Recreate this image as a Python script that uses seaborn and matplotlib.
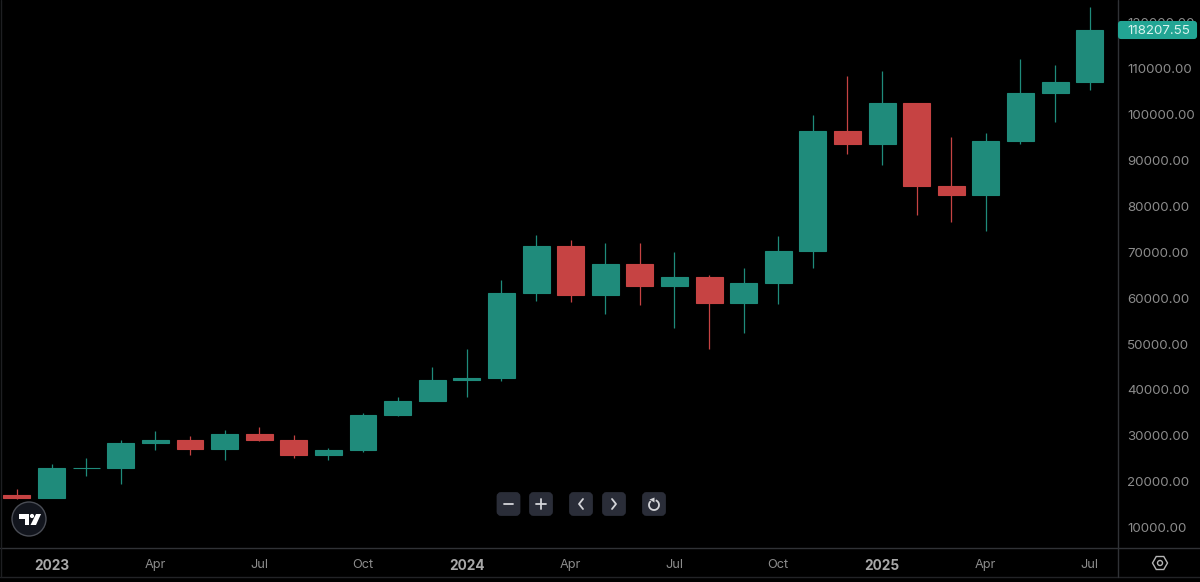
import pandas as pd
import matplotlib
matplotlib.use('Agg')
import matplotlib.pyplot as plt
import seaborn as sns
from matplotlib.patches import Circle, FancyBboxPatch, Polygon, RegularPolygon, Arc

# Monthly candles, Dec 2022 to Jul 2025
months = ['2022-12', '2023-01', '2023-02', '2023-03', '2023-04', '2023-05', '2023-06', '2023-07',
          '2023-08', '2023-09', '2023-10', '2023-11', '2023-12', '2024-01', '2024-02', '2024-03',
          '2024-04', '2024-05', '2024-06', '2024-07', '2024-08', '2024-09', '2024-10', '2024-11',
          '2024-12', '2025-01', '2025-02', '2025-03', '2025-04', '2025-05', '2025-06', '2025-07']
opens = [17170, 16450, 23100, 23150, 28400, 29200, 27200, 30450,
         29200, 25950, 26960, 34500, 37700, 42200, 42580, 61130,
         71300, 60600, 67500, 62700, 64600, 58900, 63300, 70200,
         96400, 93400, 102400, 84300, 82500, 94200, 104600, 107000]
closes = [16450, 23100, 23150, 28400, 29200, 27200, 30450, 29200,
          25950, 26960, 34500, 37700, 42200, 42580, 61130, 71300,
          60600, 67500, 62700, 64600, 58900, 63300, 70200, 96400,
          93400, 102400, 84300, 82500, 94200, 104600, 107000, 118207.55]
highs = [18480, 23900, 25200, 29150, 31000, 29900, 31400, 32000,
         30200, 27400, 35000, 38400, 45000, 49000, 64000, 73800,
         72700, 71900, 71900, 70000, 65000, 66500, 73500, 99800,
         108300, 109300, 102500, 95000, 95800, 112000, 110600, 123200]
lows = [16300, 16450, 21300, 19570, 27000, 25800, 24800, 28900,
        25200, 24800, 26600, 34300, 37600, 38500, 41900, 59300,
        59100, 56500, 58400, 53500, 49000, 52500, 58700, 66500,
        91300, 88900, 78100, 76600, 74500, 93500, 98300, 105200]

y_ticks = [10000, 20000, 30000, 40000, 50000, 60000, 70000, 80000, 90000, 100000, 110000, 120000]
x_labels = {'2023-01': '2023', '2023-04': 'Apr', '2023-07': 'Jul', '2023-10': 'Oct',
            '2024-01': '2024', '2024-04': 'Apr', '2024-07': 'Jul', '2024-10': 'Oct',
            '2025-01': '2025', '2025-04': 'Apr', '2025-07': 'Jul'}

GREEN = '#1f8b7b'
RED = '#c64343'
LINE = '#303236'
TICK = '#8c8c8c'

df = pd.DataFrame({'month': months, 'open': opens, 'close': closes, 'high': highs, 'low': lows})
df['bottom'] = df[['open', 'close']].min(axis=1)
df['height'] = (df['open'] - df['close']).abs()
df['up'] = df['close'] >= df['open']

sns.set_theme(style='dark', rc={'figure.facecolor': 'black', 'axes.facecolor': 'black'})
plt.rcParams['font.family'] = ['Inter', 'DejaVu Sans']

W, H = 1200, 582
fig = plt.figure(figsize=(W / 100, H / 100), dpi=100)
ax = fig.add_axes([0, 1 - 548 / H, 1118 / W, 548 / H])

# one barplot per direction, order keeps every candle in its own month slot
for is_up, colour in [(True, GREEN), (False, RED)]:
    sub = df[df['up'] == is_up]
    sns.barplot(data=sub, x='month', y='height', order=months, bottom=sub['bottom'].values,
                color=colour, saturation=1, width=0.78, errorbar=None,
                edgecolor=colour, linewidth=0.8, ax=ax)

ax.vlines(range(len(df)), df['low'], df['high'],
          colors=[GREEN if u else RED for u in df['up']], linewidth=0.9, zorder=1)

ax.set_xlim(-0.491, 31.82)
ax.set_ylim(5652, 124783)
ax.set_xlabel('')
ax.set_ylabel('')
ax.grid(False)
for s in ax.spines.values():
    s.set_visible(False)

ax.yaxis.tick_right()
ax.set_yticks(y_ticks)
ax.set_yticklabels([f'{v:.2f}' for v in y_ticks], color=TICK, fontsize=9.6)
ax.tick_params(axis='y', length=0, pad=6.5)

tick_pos = [months.index(m) for m in x_labels]
ax.set_xticks(tick_pos)
ax.set_xticklabels(list(x_labels.values()), color=TICK, fontsize=9.2)
ax.tick_params(axis='x', length=0, pad=8)
for lab in ax.get_xticklabels():
    if lab.get_text().startswith('20'):
        lab.set_fontweight('bold')
        lab.set_color('#a8a8a8')
        lab.set_fontsize(9.8)

# overlay in pixel coordinates for the chart furniture
ui = fig.add_axes([0, 0, 1, 1], facecolor='none')
ui.set_xlim(0, W)
ui.set_ylim(H, 0)
ui.axis('off')

ui.plot([0, W], [548, 548], color=LINE, lw=1)
ui.plot([0, W], [577, 577], color='#222326', lw=1)
ui.plot([1118, 1118], [0, 577], color=LINE, lw=1)
ui.plot([1, 1], [0, 577], color='#1e1f22', lw=1)

# last price tag
ui.add_patch(FancyBboxPatch((1119, 22), 77, 16, boxstyle='round,pad=0,rounding_size=2',
                            fc='#22a594', ec='#22a594', lw=1.5, zorder=5))
ui.text(1127, 30.5, f'{closes[-1]:.2f}', color='#d8f3ee', fontsize=9.6, ha='left', va='center', zorder=6)

# TradingView badge
ui.add_patch(Circle((29, 519), 17, fc='#12151d', ec='#4a4d55', lw=1))
ui.add_patch(Polygon([(19, 514), (29, 514), (29, 525), (24.5, 525), (24.5, 518.5), (19, 518.5)], fc='white', ec='none'))
ui.add_patch(Circle((32, 516), 2.1, fc='white', ec='none'))
ui.add_patch(Polygon([(36, 514), (41, 514), (36, 525), (30.5, 525)], fc='white', ec='none'))

# zoom and scroll buttons
BTN = '#2a2d38'
ICON = '#d4d5d9'
for cx in [508.5, 541, 581, 614, 654]:
    ui.add_patch(FancyBboxPatch((cx - 10.5, 493.5), 21, 21, boxstyle='round,pad=0,rounding_size=3',
                                fc=BTN, ec=BTN, lw=2))
ui.plot([504, 513], [504, 504], color=ICON, lw=1.3)
ui.plot([536, 546], [504, 504], color=ICON, lw=1.3)
ui.plot([541, 541], [499, 509], color=ICON, lw=1.3)
ui.plot([583, 579, 583], [499, 504, 509], color=ICON, lw=1.3)
ui.plot([612, 616, 612], [499, 504, 509], color=ICON, lw=1.3)
ui.add_patch(Arc((654, 505), 10, 10, theta1=-70, theta2=230, ec=ICON, lw=1.3))
ui.add_patch(Polygon([(649.5, 499.5), (654.5, 497.5), (654.5, 502.5)], fc=ICON, ec='none'))

# settings icon
ui.add_patch(RegularPolygon((1160, 563), 6, radius=7.5, orientation=0.5236, fc='none', ec='#b5b5b5', lw=1))
ui.add_patch(Circle((1160, 563), 2.5, fc='none', ec='#b5b5b5', lw=1))

fig.savefig('out.png', dpi=100, facecolor='black')
